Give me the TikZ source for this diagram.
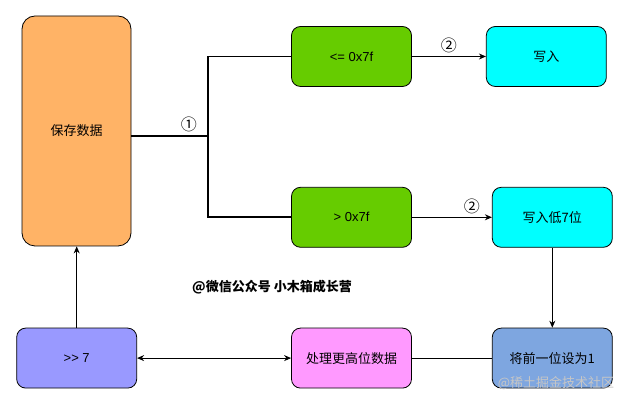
\documentclass[tikz,border=0pt]{standalone}
\usepackage{fontspec}
\setmainfont{Noto Sans CJK SC}
\newfontfamily\latinfont{Liberation Sans}
\usepackage{tikz}
\usetikzlibrary{arrows.meta, positioning, calc}
\definecolor{saveorange}{HTML}{FFB366}
\definecolor{testgreen}{HTML}{66CC00}
\definecolor{writecyan}{HTML}{00FFFF}
\definecolor{shiftblue}{HTML}{9999FF}
\definecolor{highpink}{HTML}{FF99FF}
\definecolor{bitblue}{HTML}{7EA6E0}
\tikzstyle{block} = [draw,
	rounded corners=9pt,
	minimum width = 120pt,
	minimum height = 60pt,
	line width=0.8pt]
\tikzstyle{arrow} = [-{Stealth[length=7pt, width=6pt]}, line width=0.9pt]
\tikzstyle{dblarrow} = [{Stealth[length=7pt, width=6pt]}-{Stealth[length=7pt, width=6pt]}, line width=0.9pt]
\tikzstyle{branch} = [line width=1.6pt]
\tikzstyle{step label} = [font=\fontsize{16}{18}\selectfont]

\begin{document}
\begin{tikzpicture}[x=1pt, y=1pt, font=\fontsize{13}{16}\selectfont]
			\useasboundingbox (0,0) rectangle (628,403);
			\node (save) [block, fill=saveorange, minimum width=109pt, minimum height=230pt, rounded corners=13pt] at (76.5,272) {保存数据};
			
			\node (le) [block, fill=testgreen, font=\fontsize{13}{16}\latinfont] at (351.5,346.5) {<= 0x7f};
			\node (gt) [block, fill=testgreen, font=\fontsize{13}{16}\latinfont, below=100pt of le] {> 0x7f};
			\node (wr) [block, fill=writecyan, right=74pt of le] {写入};
			\node (wrlow) [block, fill=writecyan, right=80pt of gt] {写入低7位};
			
			\node (setbit) [block, fill=bitblue, below=80pt of wrlow] {将前一位设为1};
			\node (high) [block, fill=highpink, left=80pt of setbit] {处理更高位数据};
			\node (shift) [block, fill=shiftblue, font=\fontsize{13}{16}\latinfont, left=154pt of high] {>{}> 7};
			
			\coordinate (fork) at (208,267);
			\draw [branch] (save.east |- fork) -- (fork) node [step label, near end, above] {①};
			\draw [branch] (fork) |- (le);
			\draw [branch] (fork) |- (gt);
			
			\draw [arrow] (le) -- (wr) node [step label, midway, above] {②};
			\draw [arrow] (gt) -- (wrlow) node [step label, pos=0.75, above] {②};
			\draw [arrow] (wrlow) -- (setbit);
			\draw [line width=0.9pt] (setbit) -- (high);
			\draw [dblarrow] (high) -- (shift);
			\draw [arrow] (shift) -- (shift |- save.south);
			
			\node (credit) [font=\fontsize{13}{16}\selectfont\bfseries] at (272,116) {@微信公众号 小木箱成长营};
			\node (mark) [text=gray!45] at (556,20) {@稀土掘金技术社区};
		\end{tikzpicture}
\end{document}
